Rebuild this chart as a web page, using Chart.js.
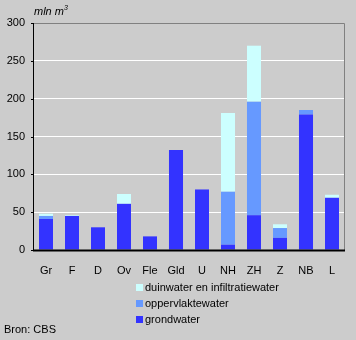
<!DOCTYPE html>
<html>
<head>
<meta charset="utf-8">
<script src="https://cdn.jsdelivr.net/npm/chart.js@4"></script>
<style>
  body { margin: 0; background: #cccccc; font-family: "Liberation Sans", Arial, sans-serif; }
  #wrap { position: relative; width: 356px; height: 340px; background: #cccccc; }
  canvas { position: absolute; left: 0; top: 0; }
  .unit { position: absolute; left: 34px; top: 4px; font-size: 11px; font-style: italic; }
  .unit sup { font-size: 7px; vertical-align: 5px; }
  .legend { position: absolute; left: 136px; top: 281px; font-size: 11px; }
  .legend div { height: 16px; line-height: 12px; }
  .legend span { display: inline-block; width: 7px; height: 7px; margin-right: 2px; vertical-align: 0px; }
  .source { position: absolute; left: 4px; top: 323px; font-size: 11px; }
</style>
</head>
<body>
<div id="wrap">
  <canvas id="chart" width="356" height="340"></canvas>
  <div class="unit">mln m<sup>3</sup></div>
  <div class="legend">
    <div><span style="background:#ccffff"></span>duinwater en infiltratiewater</div>
    <div><span style="background:#6699ff"></span>oppervlaktewater</div>
    <div><span style="background:#3333ff"></span>grondwater</div>
  </div>
  <div class="source">Bron: CBS</div>
</div>
<script>
const provinces = ["Gr", "F", "D", "Ov", "Fle", "Gld", "U", "NH", "ZH", "Z", "NB", "L"];
const grondwater = [41, 45, 30, 61, 18, 132, 80, 7, 46, 16, 179, 69];
const oppervlaktewater = [4, 0, 0, 0, 0, 0, 0, 70, 150, 13, 6, 0];
const duinwater = [3, 1, 0, 13, 0, 0, 0, 104, 74, 5, 0, 4];
const yTicks = [0, 50, 100, 150, 200, 250, 300];

// frame: grey top/right, black left/bottom axis with small ticks
const frame = {
  id: "frame",
  afterDraw(chart) {
    const { ctx, chartArea: a } = chart;
    const y = chart.scales.y;
    ctx.save();
    ctx.lineWidth = 1;
    ctx.strokeStyle = "#808080";
    ctx.beginPath();
    ctx.moveTo(a.left, a.top + 0.5);
    ctx.lineTo(a.right - 0.5, a.top + 0.5);
    ctx.lineTo(a.right - 0.5, a.bottom);
    ctx.stroke();
    ctx.strokeStyle = "#000000";
    ctx.beginPath();
    ctx.moveTo(a.left + 0.5, a.top);
    ctx.lineTo(a.left + 0.5, a.bottom);
    yTicks.forEach((v) => {
      const py = Math.round(y.getPixelForValue(v)) + 0.5;
      ctx.moveTo(a.left - 2, py);
      ctx.lineTo(a.left, py);
    });
    ctx.stroke();
    ctx.lineWidth = 2;
    ctx.beginPath();
    ctx.moveTo(a.left, a.bottom + 0.5);
    ctx.lineTo(a.right, a.bottom + 0.5);
    ctx.stroke();
    ctx.restore();
  },
};

const ctx = document.getElementById("chart");
new Chart(ctx, {
  type: "bar",
  data: {
    labels: provinces,
    datasets: [
      { label: "grondwater", data: grondwater, backgroundColor: "#3333ff" },
      { label: "oppervlaktewater", data: oppervlaktewater, backgroundColor: "#6699ff" },
      { label: "duinwater en infiltratiewater", data: duinwater, backgroundColor: "#ccffff" },
    ],
  },
  options: {
    responsive: false,
    animation: false,
    layout: { padding: { top: 23, right: 11, left: 0, bottom: 0 } },
    plugins: { legend: { display: false }, tooltip: { enabled: false } },
    datasets: { bar: { barPercentage: 0.54, categoryPercentage: 1 } },
    scales: {
      x: {
        stacked: true,
        grid: { display: false, drawTicks: false },
        border: { display: false },
        ticks: { color: "#000", padding: 14, font: { family: "Liberation Sans", size: 11 } },
        afterFit(scale) { scale.height = 90; },
      },
      y: {
        stacked: true,
        min: 0,
        max: 300,
        afterBuildTicks(scale) { scale.ticks = yTicks.map((v) => ({ value: v })); },
        grid: {
          color: (c) => (c.tick && (c.tick.value === 0 || c.tick.value === 300) ? "rgba(0,0,0,0)" : "#ffffff"),
          drawTicks: false,
        },
        border: { display: false },
        ticks: { color: "#000", padding: 8, font: { family: "Liberation Sans", size: 11 } },
        afterFit(scale) { scale.width = 33; },
      },
    },
  },
  plugins: [frame],
});
</script>
</body>
</html>
